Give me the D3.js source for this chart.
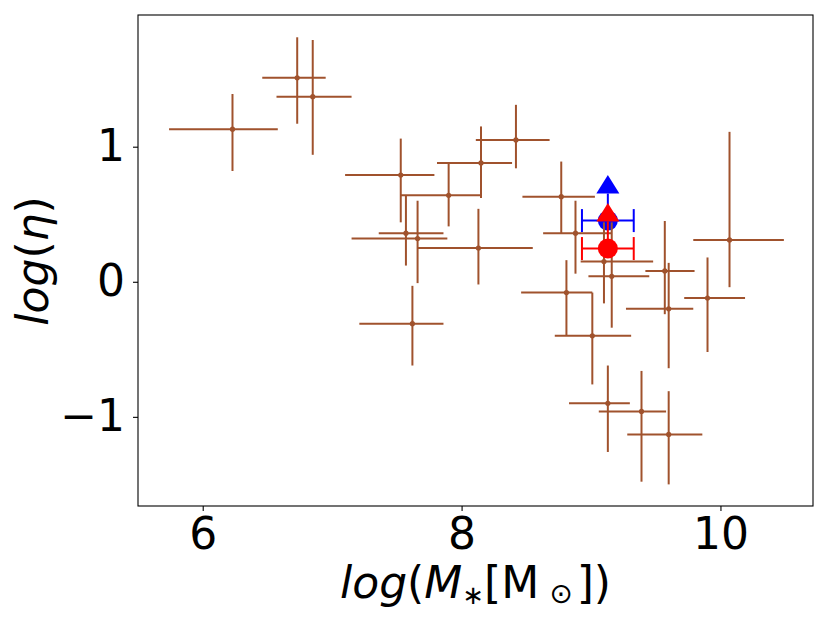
<!DOCTYPE html>
<html>
<head>
<meta charset="utf-8">
<script src="https://cdn.jsdelivr.net/npm/d3@7"></script>
<style>
  body { margin: 0; background: #fff; }
  text { font-family: "DejaVu Sans", sans-serif; }
</style>
</head>
<body>
<svg id="chart"></svg>
<script>
// Galaxy sample: stellar mass vs eta, with asymmetric errors
const logMass = [6.23, 6.73, 6.85, 7.53, 7.90, 8.15, 8.42, 7.57, 7.66, 8.13, 7.62, 8.77,
                 8.88, 8.81, 9.01, 9.10, 9.16, 9.57, 9.60, 10.07, 9.90, 9.13, 9.39, 9.60];
const massErrLo = [0.49, 0.27, 0.28, 0.43, 0.37, 0.34, 0.31, 0.21, 0.51, 0.47, 0.41, 0.30,
                   0.25, 0.35, 0.29, 0.18, 0.18, 0.15, 0.33, 0.28, 0.18, 0.30, 0.33, 0.32];
const massErrHi = [0.35, 0.22, 0.30, 0.26, 0.25, 0.24, 0.26, 0.29, 0.23, 0.42, 0.24, 0.26,
                   0.28, 0.20, 0.30, 0.38, 0.29, 0.23, 0.19, 0.42, 0.29, 0.17, 0.19, 0.26];
const logEta = [1.13, 1.51, 1.37, 0.79, 0.64, 0.88, 1.05, 0.36, 0.32, 0.25, -0.31, 0.63,
                0.36, -0.08, -0.40, 0.15, 0.04, 0.08, -0.20, 0.31, -0.12, -0.90, -0.96, -1.13];
const etaErrLo = [0.31, 0.34, 0.43, 0.35, 0.23, 0.26, 0.21, 0.24, 0.33, 0.27, 0.31, 0.27,
                  0.30, 0.32, 0.36, 0.31, 0.38, 0.32, 0.44, 0.35, 0.40, 0.36, 0.52, 0.37];
const etaErrHi = [0.26, 0.30, 0.42, 0.27, 0.24, 0.27, 0.26, 0.28, 0.28, 0.29, 0.28, 0.26,
                  0.24, 0.24, 0.32, 0.29, 0.40, 0.37, 0.34, 0.80, 0.30, 0.28, 0.30, 0.32];

// Two highlighted objects (lower limits on eta)
const limitNames = ["blue", "red"];
const limitMass = [9.13, 9.13];
const limitMassErr = [0.2, 0.2];
const limitEta = [0.453, 0.246];
const limitEtaErr = [0.2, 0.2];
const limitColors = ["#0000ff", "#ff0000"];

const xTicks = [6, 8, 10];
const yTicks = [-1, 0, 1];

const width = 830;
const height = 623;
const margin = { top: 15, right: 17, bottom: 117, left: 138 };
const brown = "#a0522d";

const svg = d3.select("#chart")
              .attr("width", width)
              .attr("height", height);

const x = d3.scaleLinear()
            .domain([5.5, 10.715])
            .range([margin.left, width - margin.right]);
const y = d3.scaleLinear()
            .domain([-1.66, 1.975])
            .range([height - margin.bottom, margin.top]);

const galaxies = logMass.map((m, i) => ({
  m: m, mLo: massErrLo[i], mHi: massErrHi[i],
  e: logEta[i], eLo: etaErrLo[i], eHi: etaErrHi[i]
}));
const limits = limitNames.map((n, i) => ({
  name: n, m: limitMass[i], mErr: limitMassErr[i],
  e: limitEta[i], eErr: limitEtaErr[i], color: limitColors[i]
}));

// draw one lower-limit object: x error with caps, caret arrow, big dot
function drawLimit(d) {
  const g = svg.append("g");
  const cy = y(d.e);
  g.append("line")
   .attr("x1", x(d.m - d.mErr)).attr("x2", x(d.m + d.mErr))
   .attr("y1", cy).attr("y2", cy)
   .attr("stroke", d.color).attr("stroke-width", 2);
  [d.m - d.mErr, d.m + d.mErr].forEach(v => {
    g.append("line")
     .attr("x1", x(v)).attr("x2", x(v))
     .attr("y1", cy - 11.5).attr("y2", cy + 11.5)
     .attr("stroke", d.color).attr("stroke-width", 2);
  });
  const topY = y(d.e + d.eErr);
  g.append("line")
   .attr("x1", x(d.m)).attr("x2", x(d.m))
   .attr("y1", cy).attr("y2", topY)
   .attr("stroke", d.color).attr("stroke-width", 2);
  g.append("path")
   .attr("d", `M${x(d.m) - 11.5},${topY} L${x(d.m) + 11.5},${topY} L${x(d.m)},${topY - 18.5} Z`)
   .attr("fill", d.color);
  g.append("circle")
   .attr("cx", x(d.m)).attr("cy", cy).attr("r", 10)
   .attr("fill", d.color);
}

// blue goes below the sample, red on top
drawLimit(limits[0]);

const pts = svg.append("g").selectAll("g")
  .data(galaxies)
  .enter().append("g");

pts.append("line")
   .attr("x1", d => x(d.m - d.mLo))
   .attr("x2", d => x(d.m + d.mHi))
   .attr("y1", d => y(d.e))
   .attr("y2", d => y(d.e))
   .attr("stroke", brown).attr("stroke-width", 2);
pts.append("line")
   .attr("x1", d => x(d.m))
   .attr("x2", d => x(d.m))
   .attr("y1", d => y(d.e - d.eLo))
   .attr("y2", d => y(d.e + d.eHi))
   .attr("stroke", brown).attr("stroke-width", 2);
pts.append("circle")
   .attr("cx", d => x(d.m))
   .attr("cy", d => y(d.e))
   .attr("r", 2.6)
   .attr("fill", brown);

drawLimit(limits[1]);

// axes
const xAxis = svg.append("g")
  .attr("transform", `translate(0,${height - margin.bottom})`)
  .call(d3.axisBottom(x).tickValues(xTicks).tickFormat(d3.format("d"))
          .tickSize(5).tickPadding(7).tickSizeOuter(0));
const yAxis = svg.append("g")
  .attr("transform", `translate(${margin.left},0)`)
  .call(d3.axisLeft(y).tickValues(yTicks).tickFormat(d3.format("d"))
          .tickSize(5).tickPadding(8).tickSizeOuter(0));

[xAxis, yAxis].forEach(a => {
  a.select(".domain").remove();
  a.selectAll(".tick line").attr("stroke", "#000").attr("stroke-width", 1.1);
  a.selectAll(".tick text")
   .attr("fill", "#000")
   .style("font-family", "'DejaVu Sans', sans-serif")
   .style("font-size", "44px");
});

// frame
svg.append("rect")
   .attr("x", margin.left)
   .attr("y", margin.top)
   .attr("width", width - margin.left - margin.right)
   .attr("height", height - margin.top - margin.bottom)
   .attr("fill", "none")
   .attr("stroke", "#000")
   .attr("stroke-width", 1.1);

// x label: log(M*[M⊙])
const xl = svg.append("text")
  .attr("x", (margin.left + width - margin.right) / 2)
  .attr("y", 598)
  .attr("text-anchor", "middle")
  .style("font-size", "44px")
  .attr("fill", "#000");
xl.append("tspan").style("font-style", "italic").text("log");
xl.append("tspan").text("(");
xl.append("tspan").style("font-style", "italic").text("M");
xl.append("tspan").style("font-size", "26px").attr("dy", 6).text("∗");
xl.append("tspan").attr("dy", -6).text("[M");
xl.append("tspan").style("font-size", "28px").attr("dx", 10).attr("dy", 5).text("⊙");
xl.append("tspan").attr("dx", 4).attr("dy", -5).text("])");

// y label: log(η)
const yl = svg.append("text")
  .attr("transform", "translate(48,261) rotate(-90)")
  .attr("text-anchor", "middle")
  .style("font-size", "44px")
  .attr("fill", "#000");
yl.append("tspan").style("font-style", "italic").text("log");
yl.append("tspan").text("(");
yl.append("tspan").style("font-style", "italic").text("η");
yl.append("tspan").text(")");
</script>
</body>
</html>
